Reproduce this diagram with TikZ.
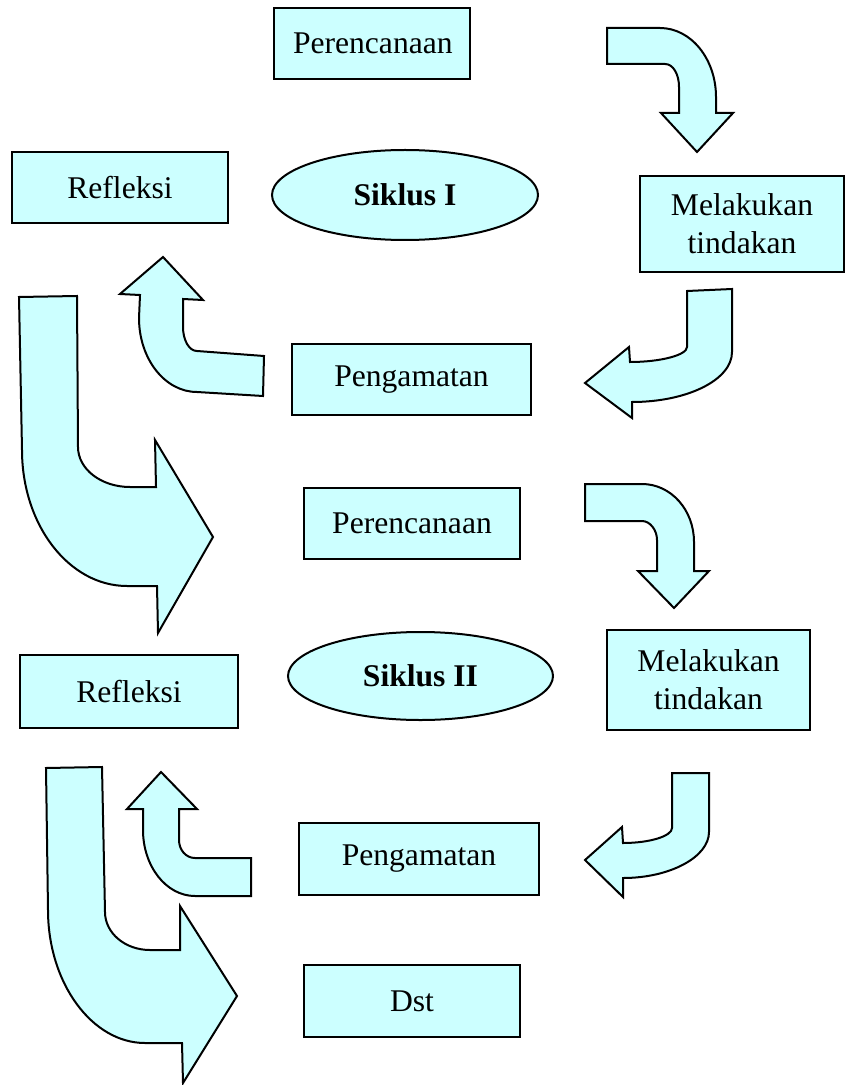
\documentclass[tikz,border=0pt]{standalone}
\usepackage{fontspec}
\setmainfont{Liberation Serif}
\usetikzlibrary{shapes.geometric}

\definecolor{boxfill}{HTML}{CCFFFF}

\begin{document}
\begin{tikzpicture}[
            x = 0.5pt, % one pixel of the reference
            y = -0.5pt,
            line width = 1pt,
            font = \fontsize{15.8}{19}\selectfont
        ]

        \tikzstyle{box}=[
            rectangle,
            draw = black,
            fill = boxfill,
            inner sep = 0pt,
            align = center
        ]
        \tikzstyle{siklus}=[
            ellipse,
            draw = black,
            fill = boxfill,
            inner sep = 0pt,
            font = \fontsize{15.8}{19}\selectfont\bfseries
        ]
        \tikzstyle{blockarrow}=[
            draw = black,
            fill = boxfill,
            line join = miter
        ]

        \useasboundingbox (0,0) rectangle (845,1085);

        % bent block arrows, cycle I
        \draw[blockarrow] (607,28) -- (660,28) .. controls +(31,0) and +(0,-38) .. (716,97) -- (716,113) -- (733,113) -- (697,152) -- (661,113) -- (679,113) -- (679,87) .. controls +(0,-13) and +(8,0) .. (665,64) -- (607,64) -- cycle;
        \draw[blockarrow] (687,291) -- (732,289) -- (732,352) .. controls +(0,28) and +(55,0) .. (632,402) -- (632,418) -- (585,383) -- (629,347) -- (630,362) .. controls +(31,0) and +(0,8) .. (687,347) -- cycle;
        \draw[blockarrow] (264,356) -- (263,396) -- (197,392) .. controls +(-32,0) and +(0,41) .. (139,318) -- (140,295) -- (120,294) -- (163,257) -- (203,300) -- (183,299) -- (183,327) .. controls +(0,13) and +(-8,0) .. (197,351) -- cycle;
        \draw[blockarrow] (19,297) -- (77,296) -- (78,447) .. controls +(0,22) and +(-29,0) .. (130,487) -- (156,487) -- (155,440) -- (213,537) -- (158,633) -- (157,586) -- (127,586) .. controls +(-58,0) and +(0,75) .. (22,450) -- cycle;

        % bent block arrows, cycle II
        \draw[blockarrow] (585,484) -- (642,484) .. controls +(29,0) and +(0,-32) .. (694,542) -- (694,571) -- (709,571) -- (674,608) -- (638,571) -- (657,571) -- (657,540) .. controls +(0,-10) and +(8,0) .. (642,521) -- (585,521) -- cycle;
        \draw[blockarrow] (672,773) -- (709,773) -- (709,832) .. controls +(0,25) and +(47,0) .. (623,878) -- (623,897) -- (585,860) -- (622,827) -- (623,843) .. controls +(27,0) and +(0,8) .. (672,828) -- cycle;
        \draw[blockarrow] (251,858) -- (251,896) -- (195,896) .. controls +(-29,0) and +(0,36) .. (143,830) -- (143,809) -- (127,809) -- (161,772) -- (197,809) -- (179,809) -- (179,840) .. controls +(0,10) and +(-9,0) .. (195,858) -- cycle;
        \draw[blockarrow] (46,768) -- (102,767) -- (105,912) .. controls +(0,21) and +(-25,0) .. (150,950) -- (180,950) -- (180,906) -- (237,996) -- (183,1083) -- (182,1043) -- (145,1043) .. controls +(-53,0) and +(0,73) .. (48,910) -- cycle;

        \node[box, minimum width = 98pt, minimum height = 35.5pt, inner xsep = 9.5pt, text width = 79pt, align = left] (plan1) at (372,43.5) {Perencanaan};
        \node[box, minimum width = 108pt, minimum height = 35.5pt]   (refl1)  at (120,187.5)  {Refleksi};
        \node[siklus, minimum width = 133pt, minimum height = 45pt]  (cyc1)   at (405,195)    {Siklus I};
        \node[box, minimum width = 102pt, minimum height = 48pt]     (act1)   at (742,224)    {Melakukan\\tindakan};
        \node[box, minimum width = 119.5pt, minimum height = 35.5pt] (obs1)   at (411.5,379.5) {Pengamatan};

        \node[box, minimum width = 108pt, minimum height = 35.5pt]   (plan2)  at (412,523.5)  {Perencanaan};
        \node[box, minimum width = 109pt, minimum height = 36.5pt]   (refl2)  at (129,691.5)  {Refleksi};
        \node[siklus, minimum width = 132.5pt, minimum height = 44pt] (cyc2)  at (420.5,676)  {Siklus II};
        \node[box, minimum width = 101.5pt, minimum height = 50pt]   (act2)   at (708.5,680)  {Melakukan\\tindakan};
        \node[box, minimum width = 120pt, minimum height = 36pt]     (obs2)   at (419,859)    {Pengamatan};
        \node[box, minimum width = 108pt, minimum height = 36pt]     (etc)    at (412,1001)   {Dst};

    \end{tikzpicture}
\end{document}
